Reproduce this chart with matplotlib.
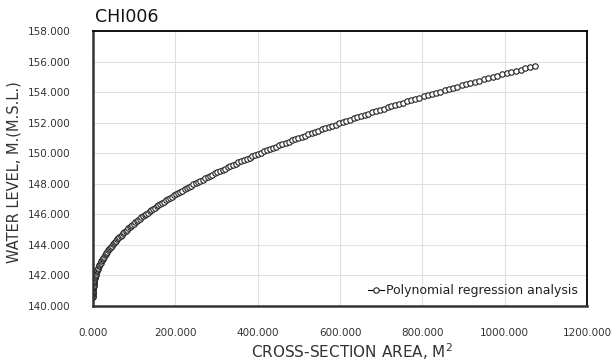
import matplotlib
matplotlib.use("Agg")
import matplotlib.pyplot as plt
from matplotlib.ticker import FuncFormatter, MultipleLocator

# water level (m MSL) and cross-section area (m2)
levels = [
    140.60, 140.68, 140.76, 140.84, 140.92, 141.00, 141.08, 141.16, 141.24, 141.32,
    141.40, 141.48, 141.56, 141.64, 141.72, 141.80, 141.88, 141.96, 142.04, 142.12,
    142.20, 142.28, 142.36, 142.44, 142.52, 142.60, 142.68, 142.76, 142.84, 142.92,
    143.00, 143.08, 143.16, 143.24, 143.32, 143.40, 143.48, 143.56, 143.64, 143.72,
    143.80, 143.88, 143.96, 144.04, 144.12, 144.20, 144.28, 144.36, 144.44, 144.52,
    144.60, 144.68, 144.76, 144.84, 144.92, 145.00, 145.08, 145.16, 145.24, 145.32,
    145.40, 145.48, 145.56, 145.64, 145.72, 145.80, 145.88, 145.96, 146.04, 146.12,
    146.20, 146.28, 146.36, 146.44, 146.52, 146.60, 146.68, 146.76, 146.84, 146.92,
    147.00, 147.08, 147.16, 147.24, 147.32, 147.40, 147.48, 147.56, 147.64, 147.72,
    147.80, 147.88, 147.96, 148.04, 148.12, 148.20, 148.28, 148.36, 148.44, 148.52,
    148.60, 148.68, 148.76, 148.84, 148.92, 149.00, 149.08, 149.16, 149.24, 149.32,
    149.40, 149.48, 149.56, 149.64, 149.72, 149.80, 149.88, 149.96, 150.04, 150.12,
    150.20, 150.28, 150.36, 150.44, 150.52, 150.60, 150.68, 150.76, 150.84, 150.92,
    151.00, 151.08, 151.16, 151.24, 151.32, 151.40, 151.48, 151.56, 151.64, 151.72,
    151.80, 151.88, 151.96, 152.04, 152.12, 152.20, 152.28, 152.36, 152.44, 152.52,
    152.60, 152.68, 152.76, 152.84, 152.92, 153.00, 153.08, 153.16, 153.24, 153.32,
    153.40, 153.48, 153.56, 153.64, 153.72, 153.80, 153.88, 153.96, 154.04, 154.12,
    154.20, 154.28, 154.36, 154.44, 154.52, 154.60, 154.68, 154.76, 154.84, 154.92,
    155.00, 155.08, 155.16, 155.24, 155.32, 155.40, 155.48, 155.56, 155.64, 155.72,
]
areas = [
    0.0, 0.1, 0.2, 0.2, 0.3, 0.4, 0.6, 0.8, 1.0, 1.3,
    1.6, 1.8, 2.1, 2.4, 3.1, 3.8, 4.5, 5.3, 6.2, 7.1,
    8.1, 9.2, 10.3, 11.5, 12.7, 14.1, 15.4, 16.9, 18.4, 19.9,
    21.5, 23.2, 25.0, 26.8, 28.7, 30.6, 32.6, 34.6, 36.8, 38.9,
    41.2, 43.5, 45.9, 48.3, 50.8, 53.4, 56.0, 58.7, 61.4, 64.2,
    67.1, 70.0, 73.0, 76.1, 79.2, 82.4, 85.6, 88.9, 92.3, 95.7,
    99.2, 102.8, 106.4, 110.1, 113.8, 117.6, 121.5, 125.4, 129.4, 133.5,
    137.6, 141.8, 146.0, 150.3, 154.7, 159.1, 163.6, 168.2, 172.8, 177.4,
    182.2, 187.0, 191.9, 196.8, 201.8, 206.8, 211.9, 217.1, 222.4, 227.7,
    233.0, 238.5, 243.9, 249.5, 255.1, 260.8, 266.5, 272.3, 278.2, 284.1,
    290.1, 296.2, 302.3, 308.5, 314.7, 321.0, 327.4, 333.8, 340.3, 346.8,
    353.4, 360.1, 366.8, 373.6, 380.5, 387.4, 394.4, 401.5, 408.6, 415.7,
    423.0, 430.3, 437.6, 445.1, 452.5, 460.1, 467.7, 475.4, 483.1, 490.9,
    498.8, 506.7, 514.7, 522.7, 530.8, 539.0, 547.2, 555.5, 563.9, 572.3,
    580.8, 589.3, 598.0, 606.6, 615.4, 624.2, 633.0, 641.9, 650.9, 660.0,
    669.1, 678.2, 687.5, 696.8, 706.1, 715.5, 725.0, 734.6, 744.2, 753.8,
    763.6, 773.4, 783.2, 793.1, 803.1, 813.2, 823.3, 833.4, 843.7, 854.0,
    864.3, 874.7, 885.2, 895.8, 906.4, 917.0, 927.8, 938.5, 949.4, 960.3,
    971.3, 982.3, 993.4, 1004.6, 1015.8, 1027.1, 1038.5, 1049.9, 1061.4, 1072.9,
]

W, H = 613, 364
fig = plt.figure(figsize=(W / 100, H / 100), dpi=100)
ax = fig.add_axes([93 / W, 1 - 306 / H, (587 - 93) / W, (306 - 31) / H])

ax.plot(areas, levels, "-", color="black", lw=0.8, marker="o", ms=3.9,
        mfc="white", mec="#222222", mew=0.8,
        label="Polynomial regression analysis")

ax.set_xlim(0, 1200)
ax.set_ylim(140, 158)
ax.xaxis.set_major_locator(MultipleLocator(200))
ax.yaxis.set_major_locator(MultipleLocator(2))
fmt = FuncFormatter(lambda v, p: f"{v:.3f}")
ax.xaxis.set_major_formatter(fmt)
ax.yaxis.set_major_formatter(fmt)
ax.tick_params(length=0, labelsize=7.5, colors="#333333")
ax.tick_params(axis="y", pad=16)
ax.tick_params(axis="x", pad=16)
ax.grid(color="#e0e0e0", lw=0.8)
ax.set_axisbelow(True)

for s in ("top", "right"):
    ax.spines[s].set_color("black")
    ax.spines[s].set_linewidth(1.3)
for s in ("left", "bottom"):
    ax.spines[s].set_color("#333333")
    ax.spines[s].set_linewidth(1.8)

fig.text(95 / W, 1 - 17 / H, "CHI006", fontsize=12.5, ha="left", va="center",
         color="#111111")
fig.text(14 / W, 1 - 172 / H, "WATER LEVEL, M.(M.S.L.)", rotation=90,
         fontsize=10.5, ha="center", va="center", color="#333333")
fig.text(352 / W, 1 - 352 / H, "CROSS-SECTION AREA, M$^2$", fontsize=11,
         ha="center", va="center", color="#333333")

ax.legend(loc="lower right", frameon=False, fontsize=9, handlelength=1.3,
          handletextpad=0.2, borderaxespad=0.3, labelcolor="#222222")

fig.savefig("out.png", dpi=100)
